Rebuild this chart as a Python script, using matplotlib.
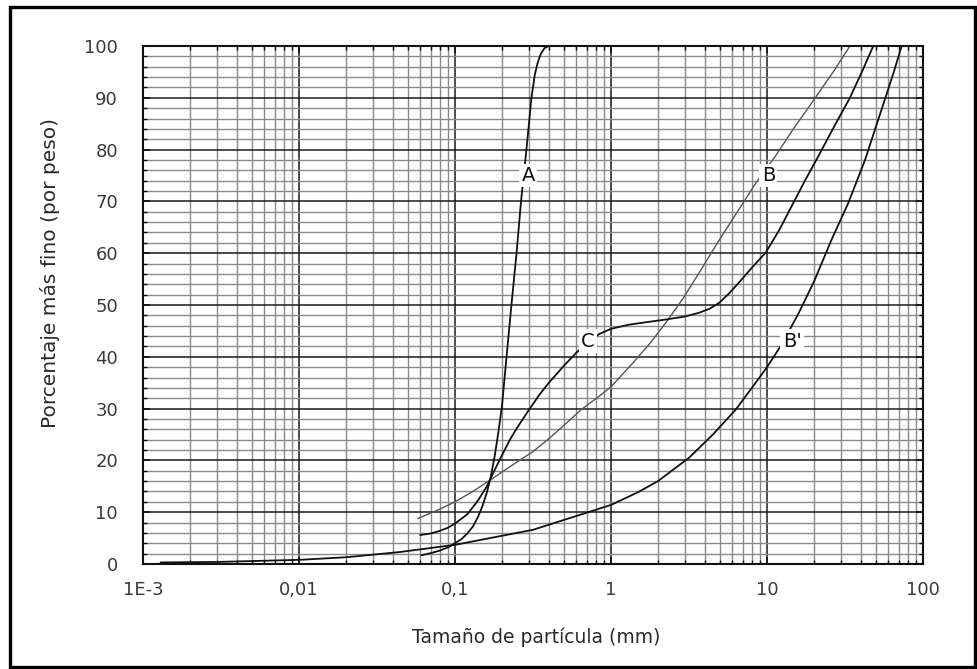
#!/usr/bin/env python3
"""Curvas granulométricas A, B, B' y C (porcentaje más fino vs tamaño)."""

import matplotlib
matplotlib.use("Agg")
import matplotlib.pyplot as plt
from matplotlib.patches import Rectangle
from matplotlib.ticker import FixedLocator, LogLocator, NullFormatter

# valores: tamaño (mm) y porcentaje más fino
a_size=[0.061,0.07,0.08,0.09,0.1,0.11,0.12,0.13,0.14,0.15,0.16,0.17,0.18,0.19,0.2,0.214,0.23,0.248,0.265,0.287,0.309,0.325,0.339,0.355,0.375,0.4]
a_pct=[1.7,2.1,2.6,3.2,4.0,4.8,5.9,7.2,9.0,11.2,13.8,17.0,21.0,25.6,30.5,40.0,50.0,60.0,70.0,80.0,90.0,94.5,96.8,98.5,99.6,100.0]
b_size=[0.058,0.08,0.1,0.13,0.168,0.22,0.316,0.4,0.518,0.65,0.84,1.0,1.38,1.8,2.25,2.9,3.67,4.7,6.0,7.2,8.5,11.3,15.0,20.4,27.0,34.0]
b_pct=[8.8,10.6,12.0,14.0,16.2,18.6,21.7,24.2,27.2,29.9,32.4,34.2,38.8,42.8,46.6,51.3,56.2,61.5,66.5,70.2,73.6,78.7,84.3,90.0,95.3,100.0]
bp_size=[0.0013,0.003,0.01,0.02,0.044,0.1,0.316,1.0,1.5,2.0,3.16,4.5,6.3,8.0,10.0,12.5,16.0,20.0,26.0,33.0,42.5,50.0,57.0,65.0,73.0]
bp_pct=[0.3,0.4,0.8,1.3,2.3,3.7,6.6,11.4,13.9,16.0,20.5,25.0,29.8,34.0,38.0,42.5,48.5,54.5,62.7,69.5,78.0,84.5,89.7,95.0,100.0]
c_size=[0.06,0.07,0.08,0.09,0.1,0.12,0.14,0.16,0.18,0.2,0.225,0.25,0.3,0.35,0.4,0.5,0.6,0.7,0.84,1.0,1.3,1.7,2.25,3.0,3.67,4.3,4.93,5.7,6.6,8.0,9.8,12.0,14.4,17.5,21.4,27.0,34.0,41.0,48.0]
c_pct=[5.6,5.9,6.4,7.0,7.8,9.6,12.2,15.0,18.2,21.0,24.0,26.3,29.9,32.8,35.0,38.3,40.8,42.6,44.4,45.4,46.2,46.7,47.2,47.8,48.5,49.3,50.4,52.2,54.3,57.2,60.1,64.5,69.1,74.0,78.8,84.5,90.0,95.3,100.0]
curve_labels=[("A",0.294,75),("B",10.2,75),("C",0.71,43),("B'",14.5,43)]
x_ticks=[1e-3,0.01,0.1,1,10,100]
x_ticklabels=["1E-3","0,01","0,1","1","10","100"]
y_ticks=list(range(0,101,10))

fig=plt.figure(figsize=(9.77,6.69),dpi=100)
ax=fig.add_axes([143/977,1-564/669,780/977,518/669])
ax.set_xscale("log");ax.set_xlim(1e-3,100);ax.set_ylim(0,100)
ax.xaxis.set_minor_locator(LogLocator(base=10,subs=range(2,10)));ax.xaxis.set_minor_formatter(NullFormatter())
ax.set_xticks(x_ticks);ax.set_xticklabels(x_ticklabels)
ax.set_yticks(y_ticks);ax.yaxis.set_minor_locator(FixedLocator([v for v in range(0,101,2) if v%10]))
ax.grid(which="minor",color="#8a8a8a",linewidth=1.0);ax.grid(which="major",color="#1a1a1a",linewidth=1.1)
ax.set_axisbelow(True)
ax.tick_params(which="both",direction="in",top=True,right=True,colors="#111",labelcolor="#3a3a3a",labelsize=13)
ax.tick_params(axis="x",pad=12);ax.tick_params(axis="y",pad=18)
ax.tick_params(which="major",length=5,width=1.2);ax.tick_params(which="minor",length=3,width=1.0)
for side in ax.spines.values():side.set_linewidth(1.5);side.set_color("#111")

ax.plot(a_size,a_pct,color="#111",linewidth=1.3)
ax.plot(b_size,b_pct,color="#555",linewidth=1.0)
ax.plot(bp_size,bp_pct,color="#111",linewidth=1.3)
ax.plot(c_size,c_pct,color="#111",linewidth=1.3)
for text,x,y in curve_labels:
    ax.text(x,y,text,ha="center",va="center",fontsize=14,color="#111",bbox=dict(boxstyle="square,pad=0.12",facecolor="white",edgecolor="none"))

fig.text(536/977,1-637/669,"Tamaño de partícula (mm)",ha="center",va="center",fontsize=13.5,color="#2a2a2a")
fig.text(50/977,1-273/669,"Porcentaje más fino (por peso)",ha="center",va="center",rotation=90,fontsize=14.5,color="#2a2a2a")
fig.patches.append(Rectangle((10/977,1-667/669),965/977,660/669,transform=fig.transFigure,fill=False,edgecolor="black",linewidth=2.4))
fig.savefig("out.png",dpi=100)
